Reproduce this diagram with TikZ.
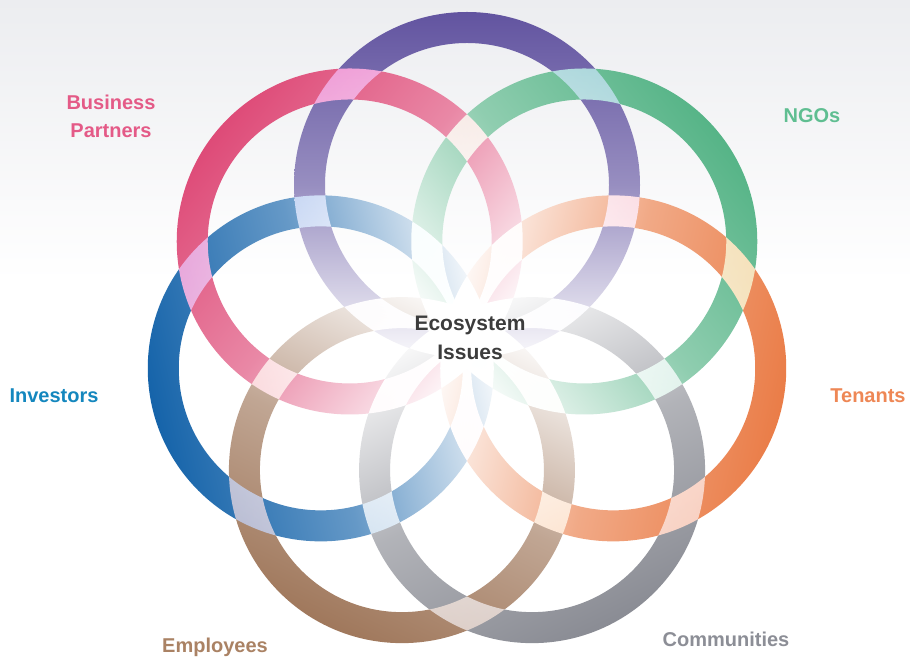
\documentclass[tikz,border=0pt]{standalone}
\usepackage{fontspec}
\setmainfont{Liberation Sans}
\usetikzlibrary{calc}
\definecolor{ringpurple}{RGB}{98,84,160}
\definecolor{ringgreen}{RGB}{86,180,135}
\definecolor{ringorange}{RGB}{234,125,72}
\definecolor{ringgray}{RGB}{138,140,148}
\definecolor{ringbrown}{RGB}{160,120,92}
\definecolor{ringblue}{RGB}{22,100,170}
\definecolor{ringpink}{RGB}{222,75,120}
\definecolor{txtgreen}{RGB}{95,190,145}
\definecolor{txtorange}{RGB}{238,135,85}
\definecolor{txtgray}{RGB}{140,142,150}
\definecolor{txtbrown}{RGB}{170,130,100}
\definecolor{txtblue}{RGB}{20,135,190}
\definecolor{txtpink}{RGB}{228,90,135}
\definecolor{txtdark}{RGB}{60,60,60}
\definecolor{haze}{RGB}{236,237,240}
\tikzset{
  ring/.style={even odd rule, top color=#1, bottom color=#1!3, middle color=#1!66},
  lbl/.style={font=\fontsize{20}{28}\selectfont\bfseries, inner sep=0pt, align=center}
}
\begin{document}
\begin{tikzpicture}[x=1pt, y=1pt]
	\useasboundingbox (0,0) rectangle (910,661);
	\fill[white] (0,0) rectangle (910,661);
	\shade[top color=haze, bottom color=white] (0,380) rectangle (910,661);
	\coordinate (hub) at (467,326);
	% seven rings, screened on top of each other
	\begin{scope}[blend group=screen]
		\foreach \k/\col in {0/ringpurple, 1/ringgreen, 2/ringorange, 3/ringgray, 4/ringbrown, 5/ringblue, 6/ringpink}
		{
			\pgfmathsetmacro\ang{90-\k*360/7}
			\pgfmathsetmacro\rot{-\k*360/7}
			\coordinate (c\k) at ($(hub)+(\ang:150)$);
			\shade[ring=\col, shading angle=\rot] (c\k) circle (173) (c\k) circle (142);
		}
	\end{scope}
	\node[lbl, text=txtdark, font=\fontsize{21}{29}\selectfont\bfseries] (issues) at (470,323) {Ecosystem\\Issues};
	\node[lbl, text=txtpink] (partners) at (111,545) {Business\\Partners};
	\node[lbl, text=txtgreen, anchor=base] (ngos) at (812,538) {NGOs};
	\node[lbl, text=txtorange, anchor=base] (tenants) at (868,258) {Tenants};
	\node[lbl, text=txtgray, anchor=base] (communities) at (726,14) {Communities};
	\node[lbl, text=txtbrown, anchor=base] (employees) at (215,8) {Employees};
	\node[lbl, text=txtblue, anchor=base] (investors) at (54,258) {Investors};
\end{tikzpicture}
\end{document}
